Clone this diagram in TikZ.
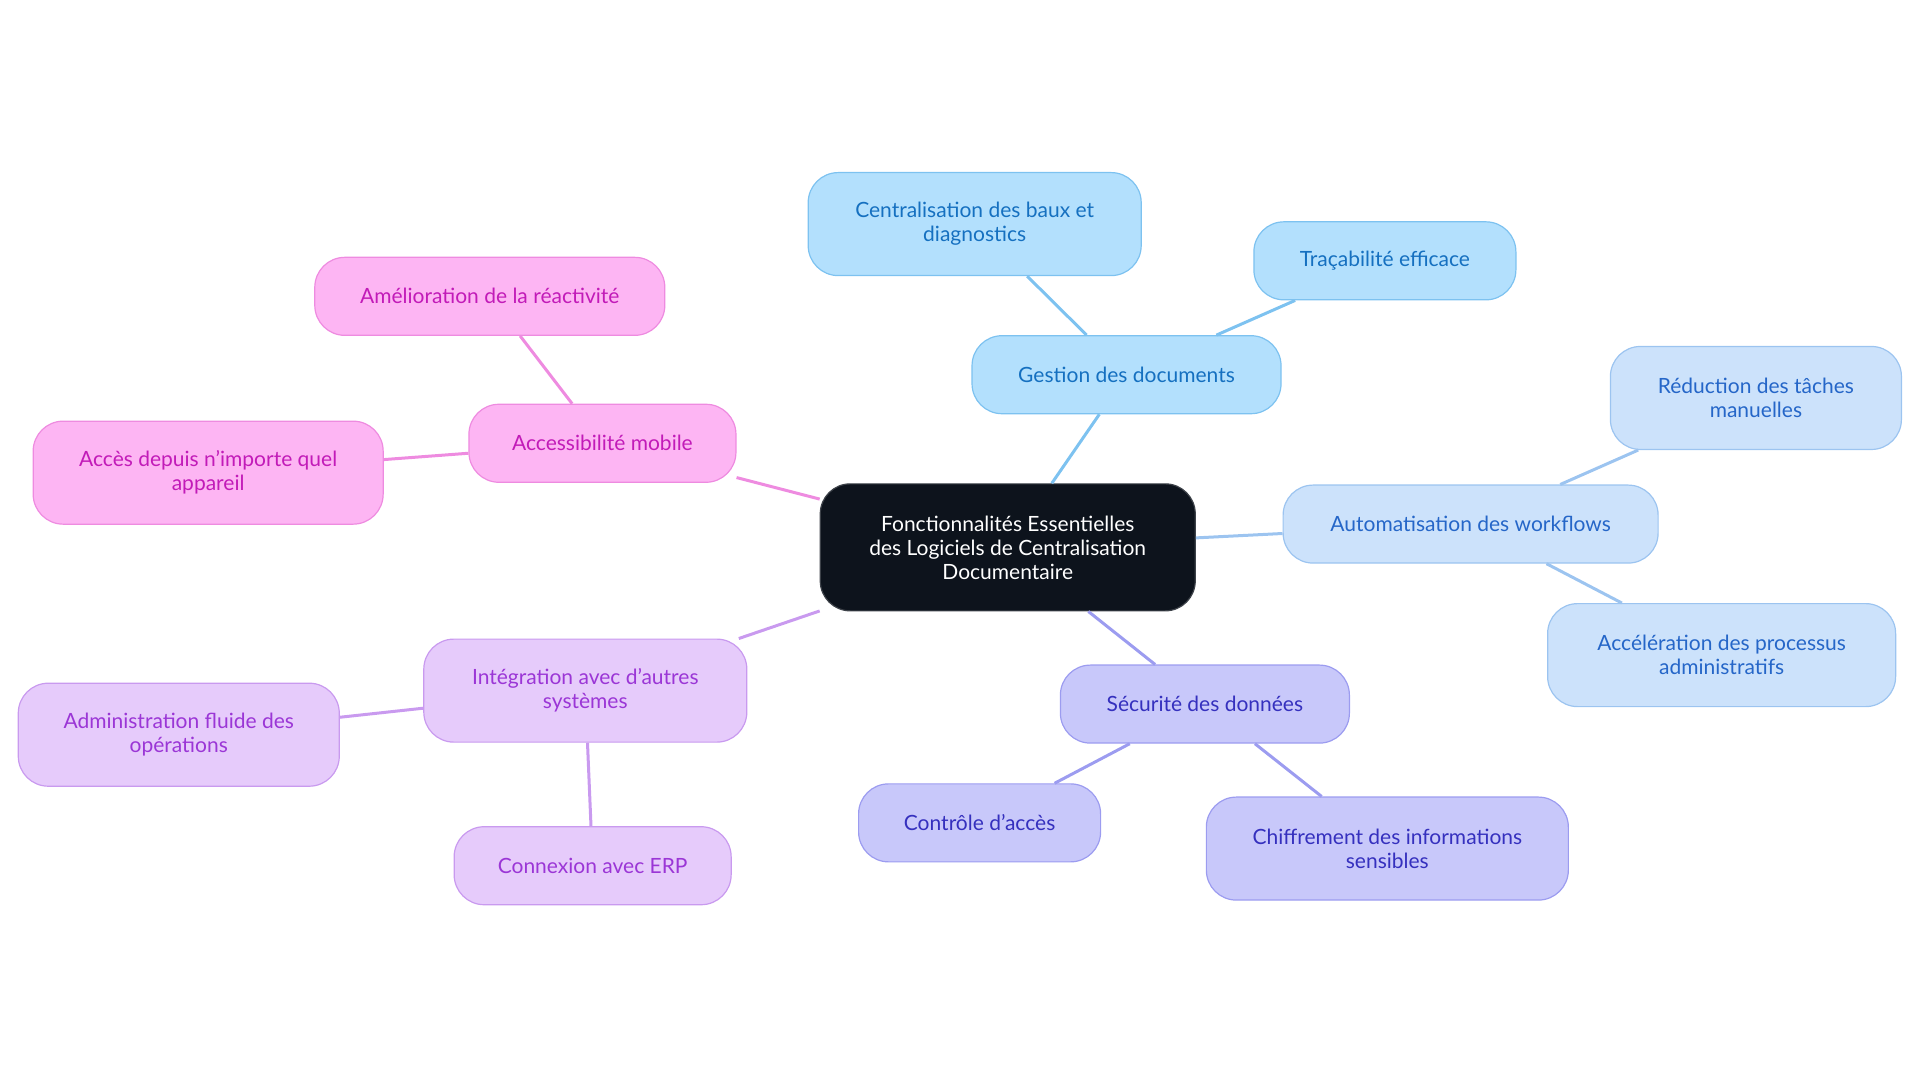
\documentclass[tikz,border=0pt]{standalone}
\usepackage{fontspec}
\setmainfont{Lato}
\definecolor{rootfill}{HTML}{0D131C}
\definecolor{docfill}{HTML}{B3E0FD}\definecolor{docline}{HTML}{7DC2F0}\definecolor{doctext}{HTML}{1570C0}
\definecolor{autofill}{HTML}{CCE2FB}\definecolor{autoline}{HTML}{9CC4F0}\definecolor{autotext}{HTML}{2566C8}
\definecolor{secfill}{HTML}{C8C8FA}\definecolor{secline}{HTML}{9C9CF0}\definecolor{sectext}{HTML}{3530BE}
\definecolor{intfill}{HTML}{E6CBFB}\definecolor{intline}{HTML}{C99AEF}\definecolor{inttext}{HTML}{9B36D6}
\definecolor{accfill}{HTML}{FDB5F3}\definecolor{accline}{HTML}{EE8BE0}\definecolor{acctext}{HTML}{C21BB8}
\tikzset{every picture/.style={line width=3pt}}
\tikzset{
  box/.style={rounded corners=30pt, align=center, inner sep=0pt, line width=1.2pt, font=\fontsize{21}{24}\selectfont},
  doc/.style={box, fill=docfill, draw=docline, text=doctext},
  auto/.style={box, fill=autofill, draw=autoline, text=autotext},
  sec/.style={box, fill=secfill, draw=secline, text=sectext},
  int/.style={box, fill=intfill, draw=intline, text=inttext},
  acc/.style={box, fill=accfill, draw=accline, text=acctext},
}
\begin{document}
\begin{tikzpicture}[x=1.2245pt,y=1.2245pt,yscale=-1,xscale=1]
\useasboundingbox (0,0) rectangle (1568,884.5);

% Nodes
\node (root) [box, fill=rootfill, draw=rootfill!80!white, text=white, minimum width=375pt, minimum height=127pt] at (823,447) {Fonctionnalités Essentielles\\des Logiciels de Centralisation\\Documentaire};

\node (gest) [doc, minimum width=309pt, minimum height=78pt] at (920,306) {Gestion des documents};
\node (cent) [doc, minimum width=333pt, minimum height=103pt] at (796,183) {Centralisation des baux et\\diagnostics};
\node (trac) [doc, minimum width=262pt, minimum height=78pt] at (1131,213) {Traçabilité efficace};

\node (auto) [auto, minimum width=375pt, minimum height=78pt] at (1201,428) {Automatisation des workflows};
\node (redu) [auto, minimum width=291pt, minimum height=103pt] at (1434,325) {Réduction des tâches\\manuelles};
\node (acce) [auto, minimum width=348pt, minimum height=103pt] at (1406,535) {Accélération des processus\\administratifs};

\node (secu) [sec, minimum width=289pt, minimum height=78pt] at (984,575) {Sécurité des données};
\node (cont) [sec, minimum width=242pt, minimum height=78pt] at (800,672) {Contrôle d'accès};
\node (chif) [sec, minimum width=362pt, minimum height=103pt] at (1133,693) {Chiffrement des informations\\sensibles};

\node (inte) [int, minimum width=323pt, minimum height=103pt] at (478,564) {Intégration avec d'autres\\systèmes};
\node (admi) [int, minimum width=321pt, minimum height=103pt] at (146,600) {Administration fluide des\\opérations};
\node (conn) [int, minimum width=277pt, minimum height=78pt] at (484,707) {Connexion avec ERP};

\node (mobi) [acc, minimum width=267pt, minimum height=78pt] at (492,362) {Accessibilité mobile};
\node (amel) [acc, minimum width=350pt, minimum height=78pt] at (400,242) {Amélioration de la réactivité};
\node (depu) [acc, minimum width=350pt, minimum height=103pt] at (170,386) {Accès depuis n'importe quel\\appareil};

% Connectors
\begin{scope}[on background layer/.style={}]
\draw [docline] (root) -- (gest);
\draw [docline] (gest) -- (cent);
\draw [docline] (gest) -- (trac);
\draw [autoline] (root) -- (auto);
\draw [autoline] (auto) -- (redu);
\draw [autoline] (auto) -- (acce);
\draw [secline] (root) -- (secu);
\draw [secline] (secu) -- (cont);
\draw [secline] (secu) -- (chif);
\draw [intline] (root) -- (inte);
\draw [intline] (inte) -- (admi);
\draw [intline] (inte) -- (conn);
\draw [accline] (root) -- (mobi);
\draw [accline] (mobi) -- (amel);
\draw [accline] (mobi) -- (depu);
\end{scope}
\end{tikzpicture}
\end{document}
